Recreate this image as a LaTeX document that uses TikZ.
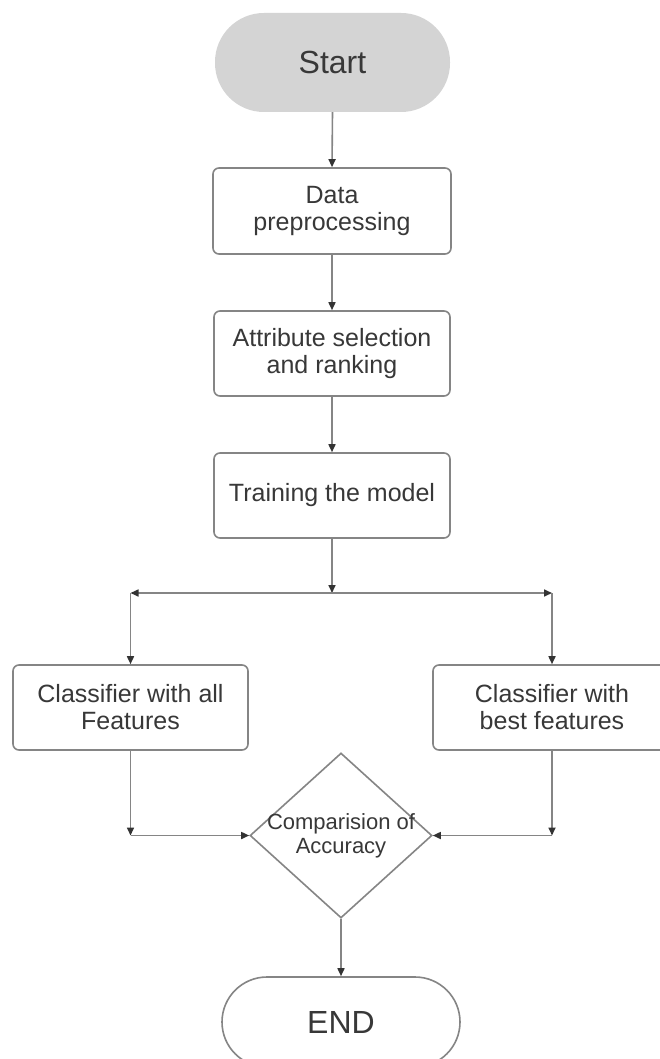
\documentclass[tikz,border=0pt]{standalone}
\usepackage{fontspec}
\setmainfont{Liberation Sans}
\usetikzlibrary{shapes.geometric,arrows.meta}
\definecolor{linec}{HTML}{858585}
\definecolor{tipc}{HTML}{333333}
\definecolor{txtc}{HTML}{383838}
\definecolor{startfill}{HTML}{D4D4D4}
\tikzset{
  every node/.style={text=txtc, font=\fontsize{25}{27}\selectfont, align=center, inner sep=0pt},
  procbox/.style={draw=linec, line width=1.6pt, rounded corners=6pt, fill=white},
  termbox/.style={rounded corners=44pt},
  decbox/.style={draw=linec, line width=1.6pt, diamond, inner sep=0pt},
  conn/.style={draw=linec, line width=1.6pt, -{Triangle[length=8pt,width=7pt,color=tipc]}},
}
\begin{document}
\begin{tikzpicture}[x=1pt,y=-1pt]
\useasboundingbox (0,0) rectangle (660,1059);
\fill[white] (0,0) rectangle (660,1059);
\clip (0,0) rectangle (660,1059);

\node[termbox, fill=startfill, rounded corners=49pt, minimum width=235pt, minimum height=99pt,
      font=\fontsize{32}{34}\selectfont] (start) at (332.5,62.5) {Start};
\node[procbox, minimum width=238pt, minimum height=86pt] (data) at (332,211) {Data\\preprocessing};
\node[procbox, minimum width=236pt, minimum height=85pt] (attr) at (332,353.5) {Attribute selection\\and ranking};
\node[procbox, minimum width=236pt, minimum height=85pt] (train) at (332,495.5) {Training the model};
\node[procbox, minimum width=235pt, minimum height=85pt] (left) at (130.5,707.5) {Classifier with all\\Features};
\node[procbox, minimum width=238pt, minimum height=85pt] (right) at (552,707.5) {Classifier with\\best features};
\node[decbox, minimum width=182pt, minimum height=165pt,
      label={[font=\fontsize{22}{24}\selectfont, text=txtc]center:Comparision of\\Accuracy}] (cmp) at (341,835.5) {};
\node[draw=linec, line width=1.6pt, rounded corners=45pt, minimum width=238pt, minimum height=90pt,
      font=\fontsize{32}{34}\selectfont] (end) at (341,1022) {END};

\coordinate (split) at (332,593);
\coordinate (sl) at (130.5,593);
\coordinate (sr) at (552,593);
\coordinate (jl) at (130.5,835.5);
\coordinate (jr) at (552,835.5);

\draw[conn] (start.south) -- (data.north);
\draw[conn] (data.south) -- (attr.north);
\draw[conn] (attr.south) -- (train.north);
\draw[conn] (train.south) -- (split);
\draw[conn] (split) -- (sl);
\draw[conn] (split) -- (sr);
\draw[conn] (sl) -- (left.north);
\draw[conn] (sr) -- (right.north);
\draw[conn] (left.south) -- (jl);
\draw[conn] (right.south) -- (jr);
\draw[conn] (jl) -- (cmp.west);
\draw[conn] (jr) -- (cmp.east);
\draw[conn] (cmp.south) -- (end.north);
\end{tikzpicture}
\end{document}
